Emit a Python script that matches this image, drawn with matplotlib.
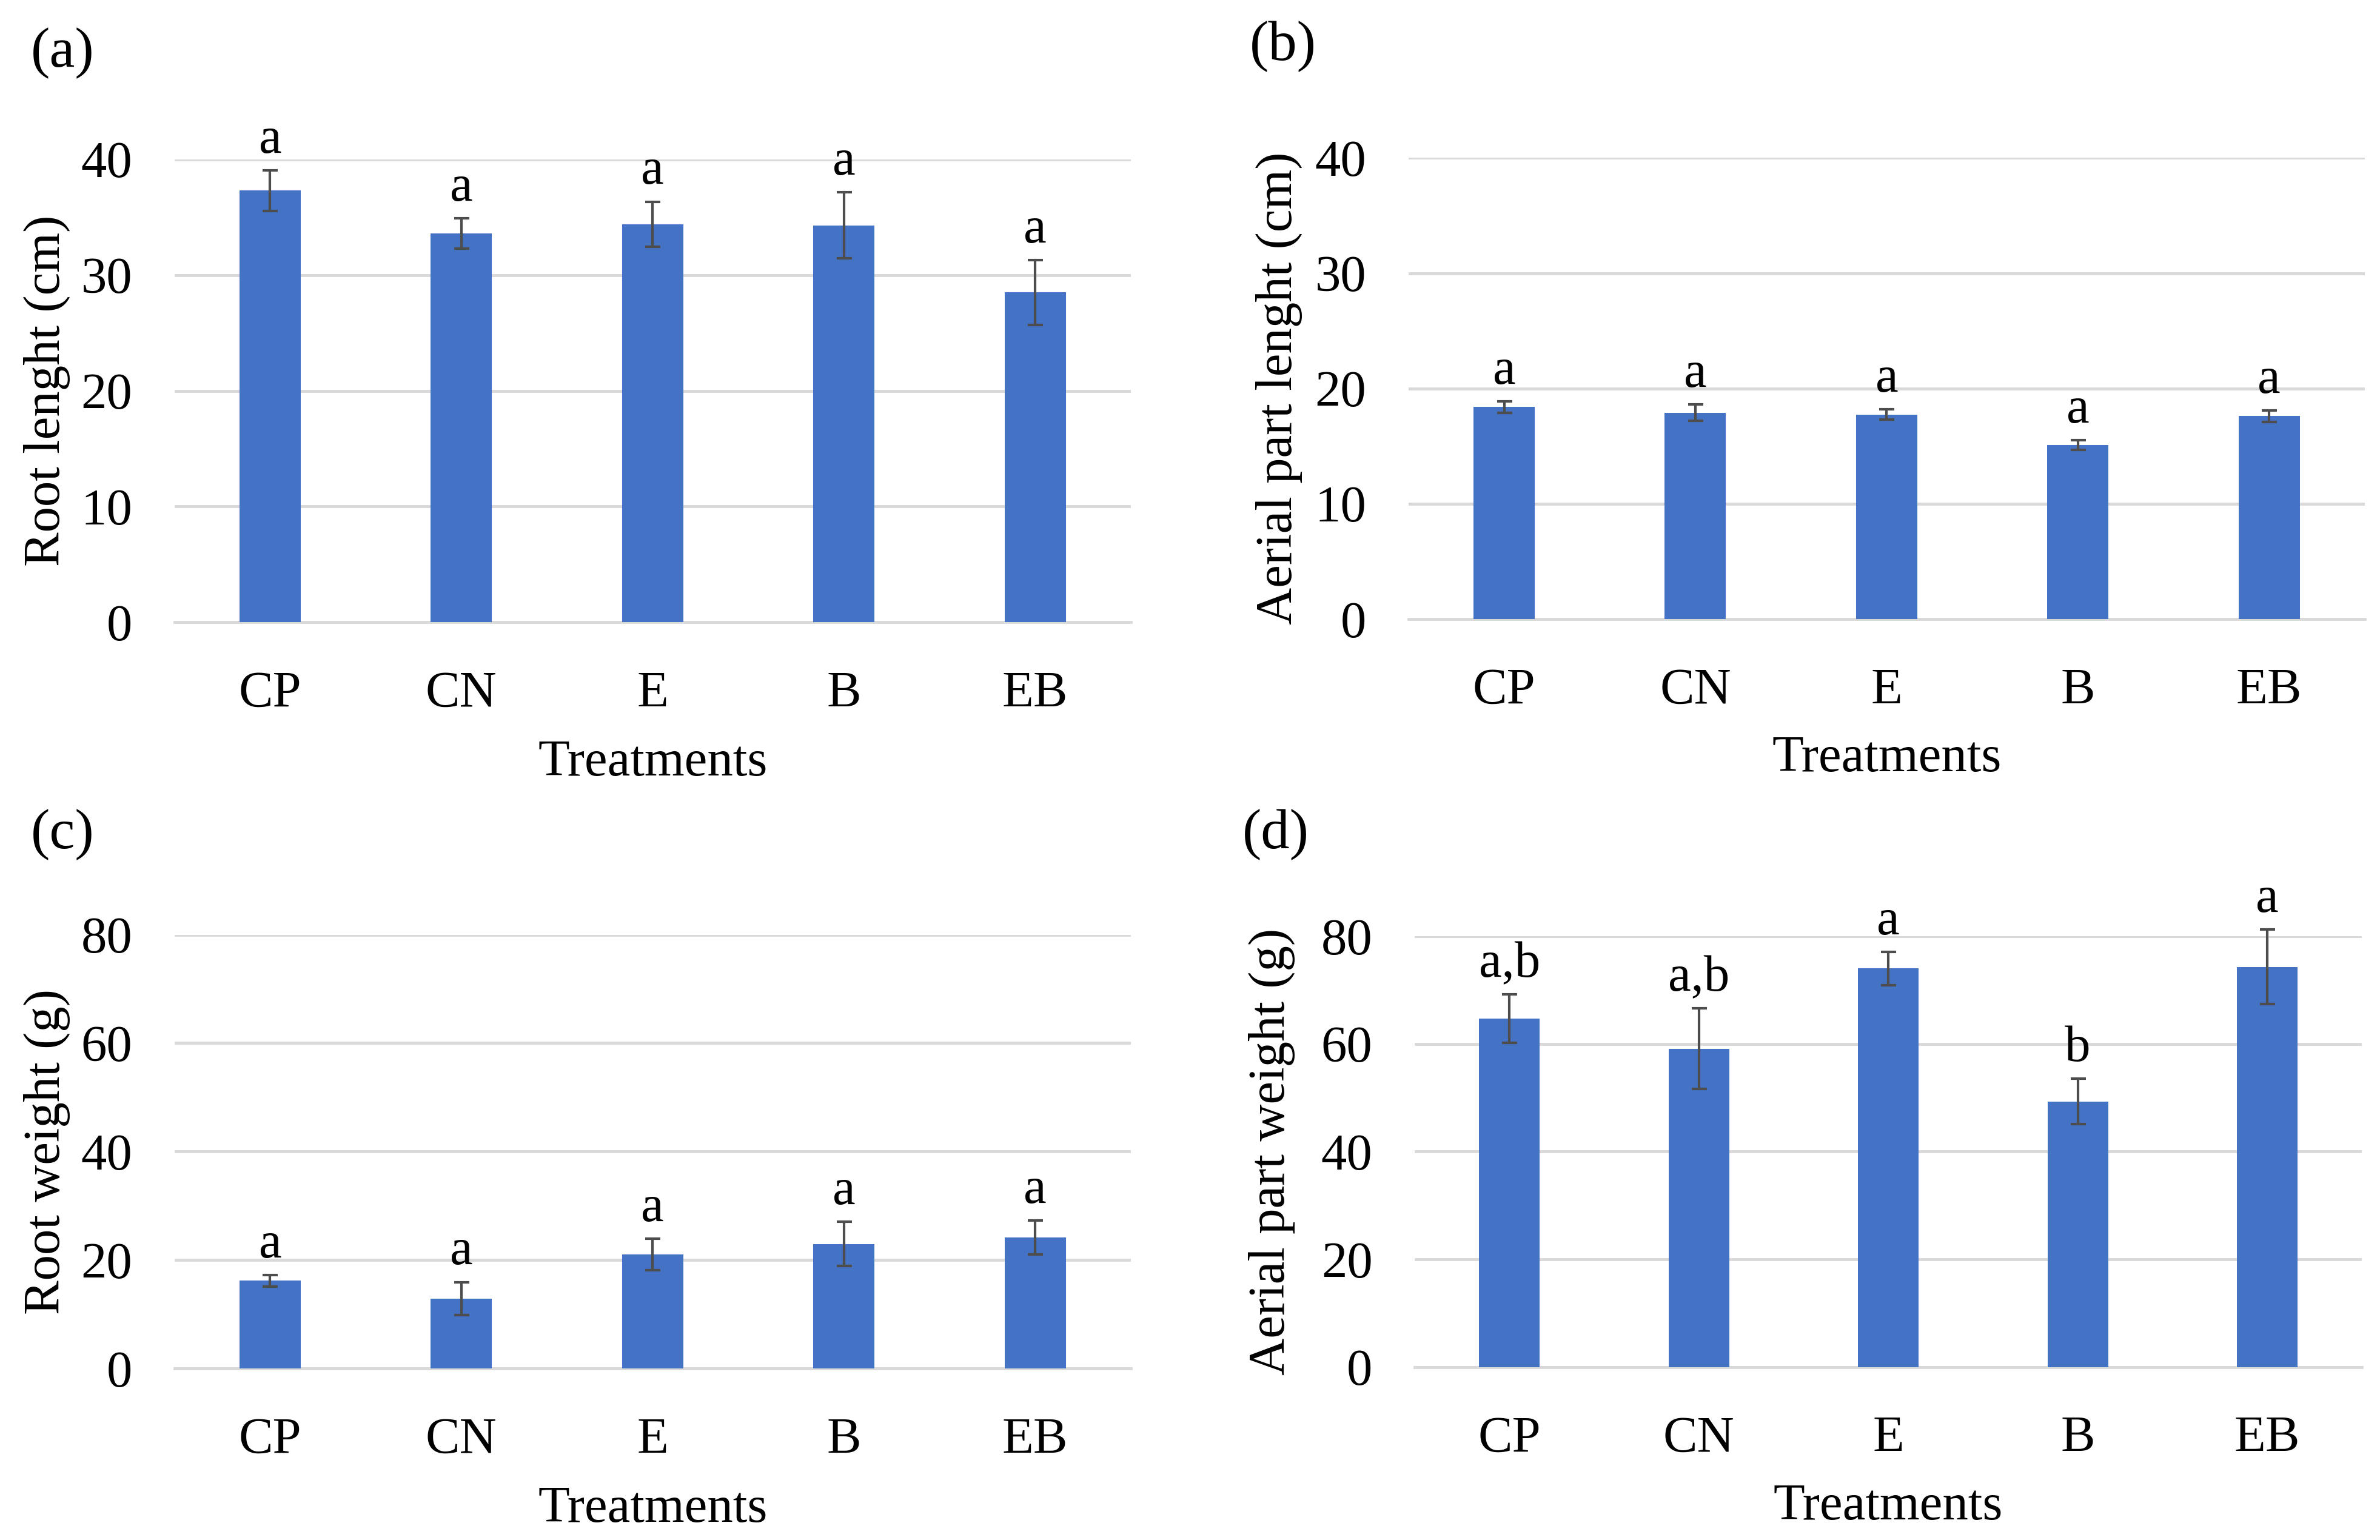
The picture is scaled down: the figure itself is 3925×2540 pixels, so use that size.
import matplotlib
matplotlib.use("Agg")
import matplotlib.pyplot as plt
import numpy as np

treatments = ["CP", "CN", "E", "B", "EB"]

root_length = [37.3, 33.6, 34.4, 34.3, 28.5]
root_length_err = [1.75, 1.3, 1.95, 2.85, 2.8]
root_length_letters = ["a", "a", "a", "a", "a"]

aerial_length = [18.4, 17.9, 17.75, 15.1, 17.6]
aerial_length_err = [0.5, 0.7, 0.45, 0.4, 0.5]
aerial_length_letters = ["a", "a", "a", "a", "a"]

root_weight = [16.2, 12.9, 21.0, 23.0, 24.2]
root_weight_err = [1.05, 3.05, 2.9, 4.05, 3.1]
root_weight_letters = ["a", "a", "a", "a", "a"]

aerial_weight = [64.7, 59.1, 74.0, 49.3, 74.3]
aerial_weight_err = [4.5, 7.5, 3.1, 4.2, 6.9]
aerial_weight_letters = ["a,b", "a,b", "a", "b", "a"]

BAR_COLOR = "#4472C4"
GRID_COLOR = "#D9D9D9"
ERR_COLOR = "#4D4D4D"
FONT = "Liberation Serif"
FS = 61

plt.rcParams["font.family"] = FONT

fig = plt.figure(figsize=(39.25, 25.4), dpi=100)

panels = [
    # rect, values, errors, letters, ylabel, ymax, step, tag, tag_pos, ylabel_x, xlabel_y
    ([0.0733, 0.596, 0.4018, 0.3005], root_length, root_length_err, root_length_letters,
     "Root lenght (cm)", 40, 10, "(a)", (0.013, 0.9655), -0.133, -0.305),
    ([0.5918, 0.598, 0.4018, 0.2995], aerial_length, aerial_length_err, aerial_length_letters,
     "Aerial part lenght (cm)", 40, 10, "(b)", (0.525, 0.970), -0.135, -0.303),
    ([0.0733, 0.1113, 0.4018, 0.2818], root_weight, root_weight_err, root_weight_letters,
     "Root weight (g)", 80, 20, "(c)", (0.013, 0.458), -0.133, -0.325),
    ([0.5944, 0.1123, 0.398, 0.2798], aerial_weight, aerial_weight_err, aerial_weight_letters,
     "Aerial part weight (g)", 80, 20, "(d)", (0.522, 0.458), -0.151, -0.324),
]

x_positions = np.arange(len(treatments))

for rect, values, errors, letters, ylabel, ymax, step, tag, tag_pos, ylab_x, xlab_y in panels:
    ax = fig.add_axes(rect)
    ax.bar(x_positions, values, width=0.32, color=BAR_COLOR, zorder=3)
    ax.errorbar(
        x_positions, values, yerr=errors, fmt="none", ecolor=ERR_COLOR,
        elinewidth=3, capsize=9, capthick=3, zorder=4, clip_on=False,
    )
    for x, v, e, letter in zip(x_positions, values, errors, letters):
        ax.annotate(
            letter, (x, v + e), xytext=(0, 8), textcoords="offset points",
            ha="center", va="bottom", fontsize=FS, annotation_clip=False,
        )

    ax.set_xlim(-0.5, len(treatments) - 0.5)
    ax.set_ylim(0, ymax)
    ax.set_yticks(np.arange(0, ymax + 1, step))
    ax.set_xticks(x_positions)
    ax.set_xticklabels(treatments)
    ax.grid(axis="y", color=GRID_COLOR, linewidth=3.5, zorder=0)
    for side in ["top", "right", "left"]:
        ax.spines[side].set_visible(False)
    ax.spines["bottom"].set_color(GRID_COLOR)
    ax.spines["bottom"].set_linewidth(3.5)
    ax.tick_params(axis="y", length=0, pad=50, labelsize=FS)
    ax.tick_params(axis="x", length=0, pad=58, labelsize=FS)

    ax.set_ylabel(ylabel, fontsize=FS)
    ax.yaxis.set_label_coords(ylab_x, 0.5)
    ax.yaxis.label.set_va("center")
    ax.set_xlabel("Treatments", fontsize=FS)
    ax.xaxis.set_label_coords(0.5, xlab_y)
    ax.xaxis.label.set_va("center")

    fig.text(tag_pos[0], tag_pos[1], tag, fontsize=68, ha="left", va="center")

fig.savefig("out.png", dpi=100)
